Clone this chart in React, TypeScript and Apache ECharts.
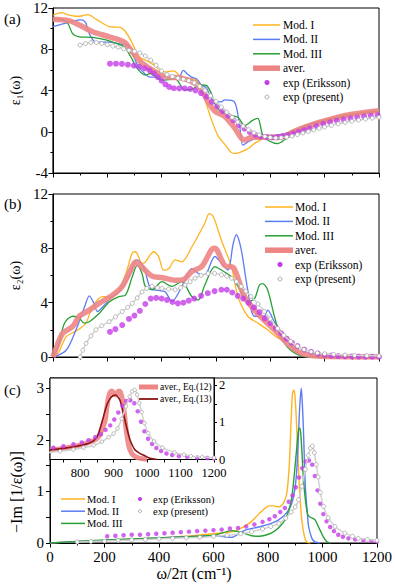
import { useEffect, useRef } from 'react';
import * as echarts from 'echarts';

const FONT = 'Liberation Serif';

// ---------- Panel (a): eps1 ----------
const modIa = [[0,11.3],[30,11.55],[60,11.3],[85,11.2],[110,11.25],[128,11.35],[160,10.9],[207,10.2],[230,10.15],[250,10.1],[270,9.6],[292,8.6],[316,7.3],[353,6.8],[390,6.1],[413,5.8],[444,5.9],[474,5.3],[523,5.05],[545,4.3],[559,3.2],[583,1.2],[608,-0.4],[632,-1.2],[656,-2.0],[672,-2.1],[693,-1.95],[720,-1.6],[741,-1.15],[780,-0.6],[814,-0.35],[851,-0.25],[880,0.15],[912,0.5],[960,0.9],[1033,1.4],[1100,1.75],[1200,2.1]];
const modIIa = [[0,10.2],[36,10.45],[70,10.7],[104,10.85],[120,10.6],[134,9.5],[158,8.7],[207,8.7],[250,8.5],[274,8.4],[292,7.6],[316,6.3],[359,5.3],[401,5.3],[426,5.5],[462,5.2],[480,5.95],[495,5.6],[510,5.3],[530,5.1],[547,4.5],[565,4.25],[583,3.2],[600,2.9],[620,2.9],[632,3.1],[668,2.9],[687,0.6],[699,-1.3],[717,-1.0],[741,-0.7],[780,-0.5],[820,-0.35],[860,-0.15],[900,0.3],[960,0.85],[1033,1.3],[1100,1.65],[1200,2.0]];
const modIIIa = [[0,11.0],[36,10.85],[55,10.5],[73,9.5],[97,9.2],[146,9.15],[195,8.9],[230,8.6],[262,8.25],[286,7.3],[310,6.15],[341,5.5],[359,5.65],[401,5.0],[450,5.1],[486,4.05],[510,4.1],[530,4.4],[547,4.55],[565,4.5],[583,3.7],[602,2.4],[632,1.75],[681,1.4],[705,0.6],[735,1.1],[754,1.3],[772,-0.3],[796,-0.9],[827,-1.15],[857,-0.7],[880,-0.3],[912,0.25],[960,0.8],[1033,1.3],[1100,1.65],[1200,2.0]];
const averA = [[0,10.9],[61,10.75],[97,10.35],[146,9.7],[207,9.2],[262,8.7],[292,7.75],[328,6.65],[377,5.8],[426,5.3],[474,5.2],[523,4.7],[547,4.1],[571,2.9],[596,2.0],[632,1.5],[668,0.4],[693,-0.6],[705,-0.8],[730,-0.55],[790,-0.5],[827,-0.55],[860,-0.35],[900,0.15],[960,0.75],[1033,1.3],[1100,1.7],[1200,2.05]];
const erA = [[210,6.6],[232,6.6],[254,6.58],[276,6.5],[298,6.42],[318,6.3],[338,6.15],[356,5.95],[372,5.65],[386,5.3],[400,4.95],[414,4.6],[428,4.35],[445,4.22],[465,4.2],[485,4.2],[505,4.15],[525,4.0],[545,3.75],[565,3.4],[585,2.9],[605,2.45],[625,2.0],[645,1.55],[665,1.1],[685,0.65],[705,0.3],[725,-0.05],[745,-0.3],[765,-0.45],[785,-0.53],[805,-0.55],[825,-0.5],[845,-0.42],[865,-0.32],[885,-0.18],[905,-0.02],[925,0.15],[945,0.32],[970,0.55],[995,0.75],[1020,0.92],[1045,1.06],[1070,1.18],[1095,1.28],[1120,1.38],[1145,1.47],[1170,1.54],[1195,1.6]];
const presA = [[100,8.4],[120,8.55],[140,8.65],[160,8.65],[180,8.55],[200,8.45],[220,8.3],[240,8.2],[260,8.05],[280,7.9],[300,7.8],[320,7.65],[340,7.35],[360,6.95],[380,6.45],[400,5.9],[420,5.55],[440,5.35],[460,5.2],[480,5.1],[500,4.95],[520,4.75],[540,4.4],[560,4.0],[580,3.5],[600,2.95],[620,2.4],[640,1.9],[660,1.4],[680,0.95],[700,0.55],[720,0.2],[740,-0.1],[760,-0.3],[780,-0.45],[800,-0.55],[820,-0.6],[840,-0.58],[860,-0.52],[880,-0.42],[900,-0.28],[920,-0.12],[940,0.02],[960,0.17],[980,0.32],[1000,0.46],[1025,0.62],[1050,0.77],[1075,0.9],[1100,1.02],[1125,1.13],[1150,1.23],[1175,1.32],[1200,1.4]];

// ---------- Panel (b): eps2 ----------
const modIb = [[0,0],[20,0.3],[49,1.5],[79,1.85],[100,2.1],[122,2.5],[146,3.7],[182,4.45],[207,4.45],[237,4.7],[267,6.05],[292,7.65],[304,7.75],[328,6.9],[340,7.0],[371,7.75],[389,7.4],[407,6.4],[426,6.5],[450,7.15],[474,7.0],[511,8.1],[559,9.85],[575,10.55],[590,10.35],[620,8.6],[657,6.65],[681,4.45],[717,3.0],[754,2.5],[790,2.0],[827,1.4],[851,1.3],[870,1.35],[888,0.5],[912,0.15],[950,0],[1000,0]];
const modIIb = [[0,0],[49,0.5],[85,2.0],[115,3.6],[134,4.5],[150,4.0],[164,3.35],[195,3.95],[219,4.45],[243,4.8],[280,5.9],[310,7.15],[334,6.65],[359,5.05],[389,4.9],[413,4.8],[438,4.1],[480,5.4],[511,6.5],[547,6.05],[565,6.15],[596,7.4],[620,6.9],[644,6.4],[663,8.3],[675,9.0],[693,7.9],[717,4.95],[742,3.0],[778,3.0],[790,3.45],[815,2.6],[851,1.5],[888,0.5],[920,0.05],[950,0],[1000,0]];
const modIIIb = [[0,0],[20,0.8],[43,2.5],[73,3.0],[97,2.85],[115,2.5],[134,2.6],[170,3.2],[207,4.05],[243,4.45],[267,4.55],[292,5.9],[310,6.75],[328,6.15],[340,5.2],[365,4.95],[401,5.55],[438,5.2],[474,5.55],[511,4.45],[535,4.2],[559,5.3],[596,6.65],[620,6.4],[657,5.9],[681,5.2],[717,4.05],[742,4.3],[760,5.3],[772,5.4],[790,4.95],[815,3.0],[839,1.5],[875,0.5],[920,0.05],[950,0],[1000,0]];
const averB = [[0,0],[15,0.8],[36,1.75],[73,2.25],[97,3.0],[134,3.45],[170,3.95],[219,4.55],[255,5.2],[286,6.4],[304,7.0],[322,6.75],[365,5.95],[401,5.85],[450,5.65],[480,5.7],[511,6.3],[547,6.65],[584,7.9],[596,8.0],[632,6.75],[663,6.6],[675,6.15],[705,4.45],[742,3.45],[778,2.7],[815,2.0],[863,1.0],[912,0.3],[973,0.07],[1050,0.02],[1200,0]];
const erB = [[210,1.85],[230,2.05],[255,2.35],[280,2.8],[300,3.05],[320,3.4],[340,3.9],[360,4.3],[380,4.35],[400,4.3],[420,4.2],[440,4.05],[460,3.95],[480,4.0],[500,4.15],[520,4.3],[545,4.5],[570,4.7],[595,4.85],[620,4.95],[640,4.95],[660,4.75],[680,4.5],[700,4.3],[720,4.0],[740,3.65],[760,3.3],[780,2.85],[800,2.5],[820,2.15],[840,1.75],[860,1.35],[880,1.05],[900,0.8],[925,0.55],[950,0.38],[975,0.25],[1000,0.15],[1025,0.1],[1050,0.07],[1075,0.05],[1100,0.04],[1125,0.03],[1150,0.02],[1175,0.02],[1200,0.02]];
const presB = [[100,0],[110,0.5],[122,1.0],[140,1.55],[158,2.0],[180,2.3],[207,2.6],[230,2.95],[255,3.35],[275,3.65],[292,3.95],[310,4.35],[328,4.8],[345,5.05],[365,5.2],[385,5.1],[401,5.05],[425,5.0],[450,4.95],[470,5.1],[486,5.3],[505,5.55],[523,5.8],[545,6.0],[571,6.15],[595,6.15],[620,6.05],[640,5.95],[657,5.8],[675,5.55],[693,5.2],[710,4.85],[729,4.45],[755,3.9],[778,3.35],[800,2.8],[827,2.1],[850,1.6],[875,1.15],[900,0.8],[924,0.55],[950,0.38],[973,0.3],[1000,0.24],[1033,0.2],[1075,0.15],[1110,0.12],[1155,0.1],[1200,0.08]];

// ---------- Panel (c): -Im(1/eps) ----------
const modIc = [[0,0],[100,0.03],[200,0.05],[300,0.08],[400,0.1],[500,0.13],[600,0.18],[669,0.22],[705,0.3],[740,0.42],[766,0.56],[790,0.68],[803,0.72],[821,0.72],[839,0.7],[857,0.78],[869,0.97],[878,1.5],[885,2.4],[890,2.9],[895,2.97],[899,2.85],[904,2.4],[912,1.43],[918,0.85],[924,0.45],[934,0.12],[942,0.02],[955,0]];
const modIIc = [[0,0],[100,0.03],[200,0.05],[300,0.07],[400,0.1],[500,0.12],[600,0.14],[640,0.12],[665,0.11],[700,0.2],[717,0.25],[766,0.31],[800,0.36],[839,0.45],[870,0.6],[888,0.78],[900,1.1],[906,1.45],[912,2.1],[916,2.6],[922,3.0],[926,2.7],[930,2.2],[937,1.1],[944,0.6],[949,0.32],[961,0.09],[973,0.02],[990,0]];
const modIIIc = [[0,0],[100,0.03],[200,0.06],[300,0.08],[400,0.1],[500,0.12],[600,0.15],[669,0.24],[705,0.2],[740,0.14],[766,0.13],[790,0.15],[815,0.2],[840,0.3],[863,0.45],[880,0.7],[888,0.91],[896,1.3],[904,1.76],[912,2.2],[917,2.23],[922,2.0],[930,1.24],[938,0.8],[946,0.55],[955,0.5],[965,0.48],[973,0.45],[982,0.35],[991,0.25],[1003,0.12],[1015,0.03],[1030,0]];
const erC = [[210,0.13],[240,0.14],[270,0.15],[300,0.16],[330,0.16],[360,0.17],[390,0.18],[420,0.19],[450,0.2],[480,0.21],[510,0.22],[540,0.23],[570,0.24],[600,0.25],[630,0.26],[660,0.28],[690,0.29],[720,0.32],[750,0.36],[780,0.41],[805,0.46],[825,0.52],[845,0.6],[862,0.68],[876,0.8],[890,0.92],[902,1.08],[914,1.27],[926,1.45],[938,1.58],[950,1.6],[962,1.52],[972,1.3],[982,1.02],[992,0.76],[1003,0.56],[1015,0.42],[1028,0.31],[1042,0.23],[1058,0.16],[1075,0.12],[1095,0.09],[1120,0.07],[1150,0.05],[1180,0.04],[1200,0.03]];
const presC = [[100,0.02],[150,0.03],[200,0.04],[250,0.05],[300,0.06],[350,0.07],[400,0.08],[450,0.09],[500,0.1],[550,0.11],[600,0.13],[650,0.15],[700,0.18],[740,0.22],[780,0.27],[810,0.32],[840,0.38],[865,0.48],[885,0.6],[900,0.7],[912,0.84],[924,1.1],[937,1.43],[948,1.7],[956,1.84],[963,1.88],[970,1.75],[977,1.52],[984,1.28],[992,0.98],[1004,0.71],[1021,0.49],[1046,0.32],[1082,0.19],[1110,0.13],[1131,0.09],[1165,0.07],[1200,0.05]];
// inset: averaged loss functions
const eq12 = [[710,0.26],[750,0.3],[780,0.35],[810,0.41],[830,0.48],[845,0.53],[855,0.61],[865,0.8],[875,1.06],[880,1.4],[885,1.69],[890,1.82],[895,1.85],[900,1.8],[905,1.74],[910,1.78],[915,1.85],[920,1.83],[925,1.68],[929,1.51],[934,1.1],[939,0.71],[944,0.42],[949,0.26],[956,0.14],[964,0.08],[979,0.03],[1000,0.01]];
const eq13 = [[710,0.26],[750,0.3],[790,0.36],[830,0.45],[850,0.6],[860,0.85],[868,1.1],[875,1.33],[882,1.52],[890,1.65],[898,1.72],[905,1.74],[912,1.7],[919,1.6],[926,1.38],[934,1.06],[942,0.76],[949,0.53],[956,0.38],[964,0.26],[976,0.18],[989,0.12],[1000,0.07],[1009,0.03],[1030,0]];

// ---------- Ticks / labels ----------
const cYLabels = [0, 1, 2, 3];
const cYTicks = [0, 0.5, 1, 1.5, 2, 2.5, 3];
const insetXLabels = [800, 900, 1000, 1100, 1200];
const insetXTicks = [750, 800, 850, 900, 950, 1000, 1050, 1100, 1150, 1200];
const insetYLabels = [0, 1, 2];
const insetYTicks = [0, 0.5, 1, 1.5, 2];

const legendAB = ['Mod. I', 'Mod. II', 'Mod. III', 'aver.', 'exp (Eriksson)', 'exp (present)'];
const legendInset = ['aver., Eq.(12)', 'aver., Eq.(13)'];
const legendC1 = ['Mod. I', 'Mod. II', 'Mod. III'];
const legendC2 = ['exp (Eriksson)', 'exp (present)'];

const C_I = '#FFB31F';
const C_II = '#5C7CF6';
const C_III = '#27A035';
const C_AV = '#EE8585';
const C_ER = '#C43DE8';
const C_PR = '#9c9c9c';
const C_13 = '#8B1414';

const styleMap: Record<string, any> = {
  'Mod. I': { kind: 'line', color: C_I, width: 1.5 },
  'Mod. II': { kind: 'line', color: C_II, width: 1.5 },
  'Mod. III': { kind: 'line', color: C_III, width: 1.5 },
  'aver.': { kind: 'line', color: C_AV, width: 5.5 },
  'aver., Eq.(12)': { kind: 'line', color: C_AV, width: 5 },
  'aver., Eq.(13)': { kind: 'line', color: C_13, width: 1.8 },
  'exp (Eriksson)': { kind: 'dot', fill: C_ER, stroke: C_ER, r: 2.6, lw: 0 },
  'exp (present)': { kind: 'dot', fill: '#fff', stroke: C_PR, r: 2, lw: 0.8 },
};

function txtStyle(text: string, size: number, extra: any = {}) {
  return { text, fill: '#000', fontFamily: FONT, fontSize: size, ...extra };
}

function legendItems(names: string[], cfg: any) {
  const out: any[] = [];
  names.forEach((n, i) => {
    const y = cfg.y0 + i * cfg.dy;
    const s = styleMap[n];
    if (s.kind === 'line') {
      out.push({ type: 'line', z: 100, shape: { x1: cfg.x1, y1: y, x2: cfg.x2, y2: y }, style: { stroke: s.color, lineWidth: s.width } });
    } else {
      out.push({ type: 'circle', z: 100, shape: { cx: cfg.mx, cy: y, r: s.r * (cfg.rs || 1) }, style: { fill: s.fill, stroke: s.stroke, lineWidth: s.lw } });
    }
    out.push({ type: 'text', z: 100, x: cfg.tx, y, style: txtStyle(n, cfg.font, { verticalAlign: 'middle', align: 'left' }) });
  });
  return out;
}

const black = { color: '#000', width: 1 };
const plain = (v: number) => String(v);

function mainX(gi: number, labels: boolean) {
  return {
    type: 'value', gridIndex: gi, min: 0, max: 1200, interval: 200,
    axisLine: { show: true, onZero: false, lineStyle: black },
    axisTick: { show: true, length: 4.5, lineStyle: black },
    minorTick: { show: true, splitNumber: 2, length: 2.5, lineStyle: black },
    axisLabel: { show: labels, fontFamily: FONT, fontSize: 15, color: '#000', margin: 6, formatter: plain },
    splitLine: { show: false },
  };
}

function mainY(gi: number, min: number, max: number, name: string) {
  return {
    type: 'value', gridIndex: gi, min, max, interval: 4,
    name, nameLocation: 'middle', nameGap: 24, nameRotate: 90,
    nameTextStyle: { fontFamily: FONT, fontSize: 14, color: '#000' },
    axisLine: { show: true, onZero: false, lineStyle: black },
    axisTick: { show: true, length: 4.5, lineStyle: black },
    minorTick: { show: true, splitNumber: 2, length: 2.5, lineStyle: black },
    axisLabel: { fontFamily: FONT, fontSize: 15, color: '#000', margin: 5, formatter: plain },
    splitLine: { show: false },
  };
}

function line(name: string, data: number[][], gi: number, color: string, width: number, z = 2, opacity = 1) {
  return {
    type: 'line', name, data, xAxisIndex: gi, yAxisIndex: gi, symbol: 'none', showSymbol: false,
    smooth: 0.3, lineStyle: { color, width, opacity }, z, silent: true, clip: true,
  };
}
function eriksson(data: number[][], gi: number, size: number) {
  return { type: 'scatter', name: 'exp (Eriksson)', data, xAxisIndex: gi, yAxisIndex: gi, symbolSize: size, itemStyle: { color: C_ER }, z: 4, silent: true, clip: true };
}
function present(data: number[][], gi: number, size: number) {
  return {
    type: 'line', name: 'exp (present)', data, xAxisIndex: gi, yAxisIndex: gi, symbol: 'circle', symbolSize: size,
    showSymbol: true, showAllSymbol: true, smooth: 0.3,
    lineStyle: { color: '#d2d2d2', width: 1.5 },
    itemStyle: { color: '#fff', borderColor: C_PR, borderWidth: 0.7 }, z: 5, silent: true, clip: true,
  };
}

export default function App() {
  const ref = useRef<HTMLDivElement>(null);
  useEffect(() => {
    document.body.style.margin = '0';
    const chart = echarts.init(ref.current!, null, { renderer: 'svg' });
    const option: any = {
      animation: false,
      backgroundColor: '#fff',
      textStyle: { fontFamily: FONT },
      grid: [
        { left: 50, top: 8, width: 329, height: 165, show: true, borderColor: '#000', borderWidth: 1 },
        { left: 50, top: 194, width: 329, height: 163, show: true, borderColor: '#000', borderWidth: 1 },
        { left: 50, top: 378, width: 329, height: 165, show: true, borderColor: '#000', borderWidth: 1 },
        { left: 50, top: 378, width: 164, height: 81.5, show: true, borderColor: '#000', borderWidth: 1, backgroundColor: '#fff', z: 3 },
      ],
      xAxis: [
        mainX(0, false),
        mainX(1, false),
        mainX(2, true),
        {
          type: 'value', gridIndex: 3, min: 710, max: 1200, z: 4,
          axisLine: { show: true, onZero: false, lineStyle: black },
          axisTick: { show: true, length: 3, lineStyle: black, customValues: insetXTicks },
          axisLabel: { fontFamily: FONT, fontSize: 12.5, color: '#000', margin: 7, lineHeight: 12, customValues: insetXLabels, formatter: plain },
          splitLine: { show: false },
        },
      ],
      yAxis: [
        mainY(0, -4, 12, 'ε₁(ω)'),
        mainY(1, 0, 12, 'ε₂(ω)'),
        {
          type: 'value', gridIndex: 2, min: 0, max: 3.2,
          axisLine: { show: true, onZero: false, lineStyle: black },
          axisTick: { show: true, length: 4, lineStyle: black, customValues: cYTicks },
          axisLabel: { fontFamily: FONT, fontSize: 15, color: '#000', margin: 6, customValues: cYLabels, formatter: plain },
          splitLine: { show: false },
        },
        {
          type: 'value', gridIndex: 3, min: 0, max: 2.2, position: 'right', z: 4,
          axisLine: { show: true, onZero: false, lineStyle: black },
          axisTick: { show: true, length: 3, lineStyle: black, customValues: insetYTicks },
          axisLabel: { fontFamily: FONT, fontSize: 12.5, color: '#000', margin: 5, lineHeight: 11, customValues: insetYLabels, formatter: plain },
          splitLine: { show: false },
        },
      ],
      series: [
        line('Mod. I', modIa, 0, C_I, 1.3),
        line('Mod. II', modIIa, 0, C_II, 1.3),
        line('Mod. III', modIIIa, 0, C_III, 1.3),
        line('aver.', averA, 0, C_AV, 5.5, 3, 0.9),
        eriksson(erA, 0, 6),
        present(presA, 0, 4),

        line('Mod. I', modIb, 1, C_I, 1.3),
        line('Mod. II', modIIb, 1, C_II, 1.3),
        line('Mod. III', modIIIb, 1, C_III, 1.3),
        line('aver.', averB, 1, C_AV, 5.5, 3, 0.9),
        eriksson(erB, 1, 6),
        present(presB, 1, 4),

        line('Mod. I', modIc, 2, C_I, 1.4),
        line('Mod. II', modIIc, 2, C_II, 1.4),
        line('Mod. III', modIIIc, 2, C_III, 1.4),
        eriksson(erC, 2, 4.5),
        present(presC, 2, 4),

        line('aver., Eq.(12)', eq12, 3, C_AV, 5, 6, 0.9),
        line('aver., Eq.(13)', eq13, 3, C_13, 1.6, 7),
        { ...eriksson(erC, 3, 4.5), z: 8 },
        { ...present(presC, 3, 3.5), z: 9 },
      ],
      graphic: [
        { type: 'text', z: 100, x: 4, y: 19, style: txtStyle('(a)', 15, { verticalAlign: 'middle' }) },
        { type: 'text', z: 100, x: 4, y: 204, style: txtStyle('(b)', 15, { verticalAlign: 'middle' }) },
        { type: 'text', z: 100, x: 4, y: 390, style: txtStyle('(c)', 15, { verticalAlign: 'middle' }) },
        { type: 'text', z: 100, x: 16, y: 492, rotation: Math.PI / 2, style: txtStyle('−Im [1/ε(ω)]', 16, { align: 'center', verticalAlign: 'middle' }) },
        { type: 'text', z: 100, x: 194, y: 573, style: txtStyle('ω/2π (cm⁻¹)', 16, { align: 'center', verticalAlign: 'middle' }) },
        ...legendItems(legendAB, { x1: 253, x2: 280, mx: 267, tx: 283, y0: 25, dy: 14.4, font: 11.5 }),
        ...legendItems(legendAB, { x1: 265, x2: 293, mx: 280, tx: 295, y0: 207, dy: 14.4, font: 11.5 }),
        ...legendItems(legendInset, { x1: 139, x2: 158, mx: 148, tx: 160, y0: 387, dy: 12, font: 9.5 }),
        ...legendItems(legendC1, { x1: 61, x2: 85, mx: 73, tx: 87, y0: 499, dy: 12.2, font: 10.5 }),
        ...legendItems(legendC2, { x1: 0, x2: 0, mx: 140, tx: 153, y0: 499, dy: 12.2, font: 10.5, rs: 0.8 }),
      ],
    };
    chart.setOption(option);
    return () => chart.dispose();
  }, []);
  return <div ref={ref} style={{ width: 395, height: 585 }} />;
}
